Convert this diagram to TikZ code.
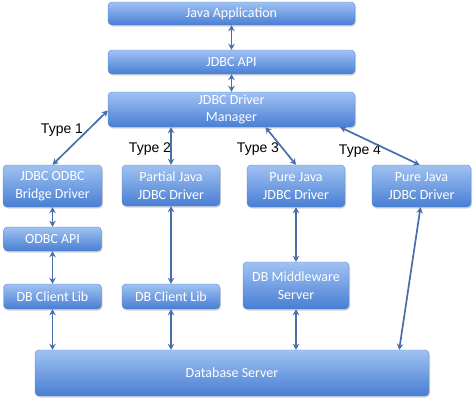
\documentclass[tikz,border=0pt]{standalone}
\usepackage{fontspec}
\setmainfont{Carlito}
\newfontfamily\labelfont{Liberation Sans}
\usetikzlibrary{arrows.meta,shadows,calc}
\definecolor{boxtop}{RGB}{160,194,242}
\definecolor{boxbot}{RGB}{72,126,212}
\definecolor{boxline}{RGB}{96,136,204}
\definecolor{arrowcol}{RGB}{74,110,172}
\begin{document}
\begin{tikzpicture}[x=1pt,y=-1pt,
  jbox/.style={rectangle, rounded corners=4pt, draw=boxline, line width=0.4pt,
    top color=boxtop, bottom color=boxbot, text=white, align=center,
    inner sep=0pt, font=\fontsize{14}{17.5}\selectfont,
    drop shadow={opacity=0.3, shadow xshift=1pt, shadow yshift=-1.5pt}},
  conn/.style={arrowcol, line width=1.7pt,
    {Stealth[length=6pt,width=6.5pt]}-{Stealth[length=6pt,width=6.5pt]}},
  typelab/.style={font=\labelfont\fontsize{14}{16}\selectfont, text=black, inner sep=0pt}]
\useasboundingbox[fill=white] (0,0) rectangle (474,400);

\node[jbox, minimum width=247pt, minimum height=23pt] (javaapp) at (231.5,13.5) {Java Application};
\node[jbox, minimum width=247pt, minimum height=24pt] (jdbcapi) at (231.5,62) {JDBC API};
\node[jbox, minimum width=247pt, minimum height=35pt] (manager) at (231.5,109.5) {JDBC Driver\\Manager};

\node[jbox, minimum width=99pt, minimum height=42pt] (bridge) at (52.5,186) {JDBC ODBC\\Bridge Driver};
\node[jbox, minimum width=98pt, minimum height=41pt] (partial) at (171,185.5) {Partial Java\\JDBC Driver};
\node[jbox, minimum width=98pt, minimum height=42pt] (pure3) at (296,186) {Pure Java\\JDBC Driver};
\node[jbox, minimum width=99pt, minimum height=42pt] (pure4) at (421.5,186) {Pure Java\\JDBC Driver};

\node[jbox, minimum width=98pt, minimum height=24pt] (odbcapi) at (52.5,239) {ODBC API};
\node[jbox, minimum width=98pt, minimum height=25pt] (client1) at (52.5,296.5) {DB Client Lib};
\node[jbox, minimum width=98pt, minimum height=25pt] (client2) at (171,296.5) {DB Client Lib};
\node[jbox, minimum width=106pt, minimum height=47pt] (middle) at (296,285.5) {DB Middleware\\Server};

\node[jbox, minimum width=394pt, minimum height=46pt] (dbserver) at (232,373) {Database Server};

\node[typelab] (t1) at (62,130) {Type 1};
\node[typelab] (t2) at (150,149) {Type 2};
\node[typelab] (t3) at (258,149) {Type 3};
\node[typelab] (t4) at (360,151) {Type 4};

\draw[conn] (javaapp.south) -- (jdbcapi.north);
\draw[conn] (jdbcapi.south) -- (manager.north);
\draw[conn] ([yshift=-1pt]manager.west) -- (bridge.north);
\draw[conn] (partial.north |- manager.south) -- (partial.north);
\draw[conn] ([xshift=34pt]manager.south) -- (pure3.north);
\draw[conn] ([xshift=-15pt]manager.south east) -- ([xshift=-2pt]pure4.north);
\draw[conn] (bridge.south) -- (odbcapi.north);
\draw[conn] (odbcapi.south) -- (client1.north);
\draw[conn] (client1.south) -- (client1.south |- dbserver.north);
\draw[conn] (partial.south) -- (client2.north);
\draw[conn] (client2.south) -- (client2.south |- dbserver.north);
\draw[conn] (pure3.south) -- (middle.north);
\draw[conn] (middle.south) -- (middle.south |- dbserver.north);
\draw[conn] ([xshift=-1pt]pure4.south) -- ([xshift=-30pt]dbserver.north east);
\end{tikzpicture}
\end{document}
